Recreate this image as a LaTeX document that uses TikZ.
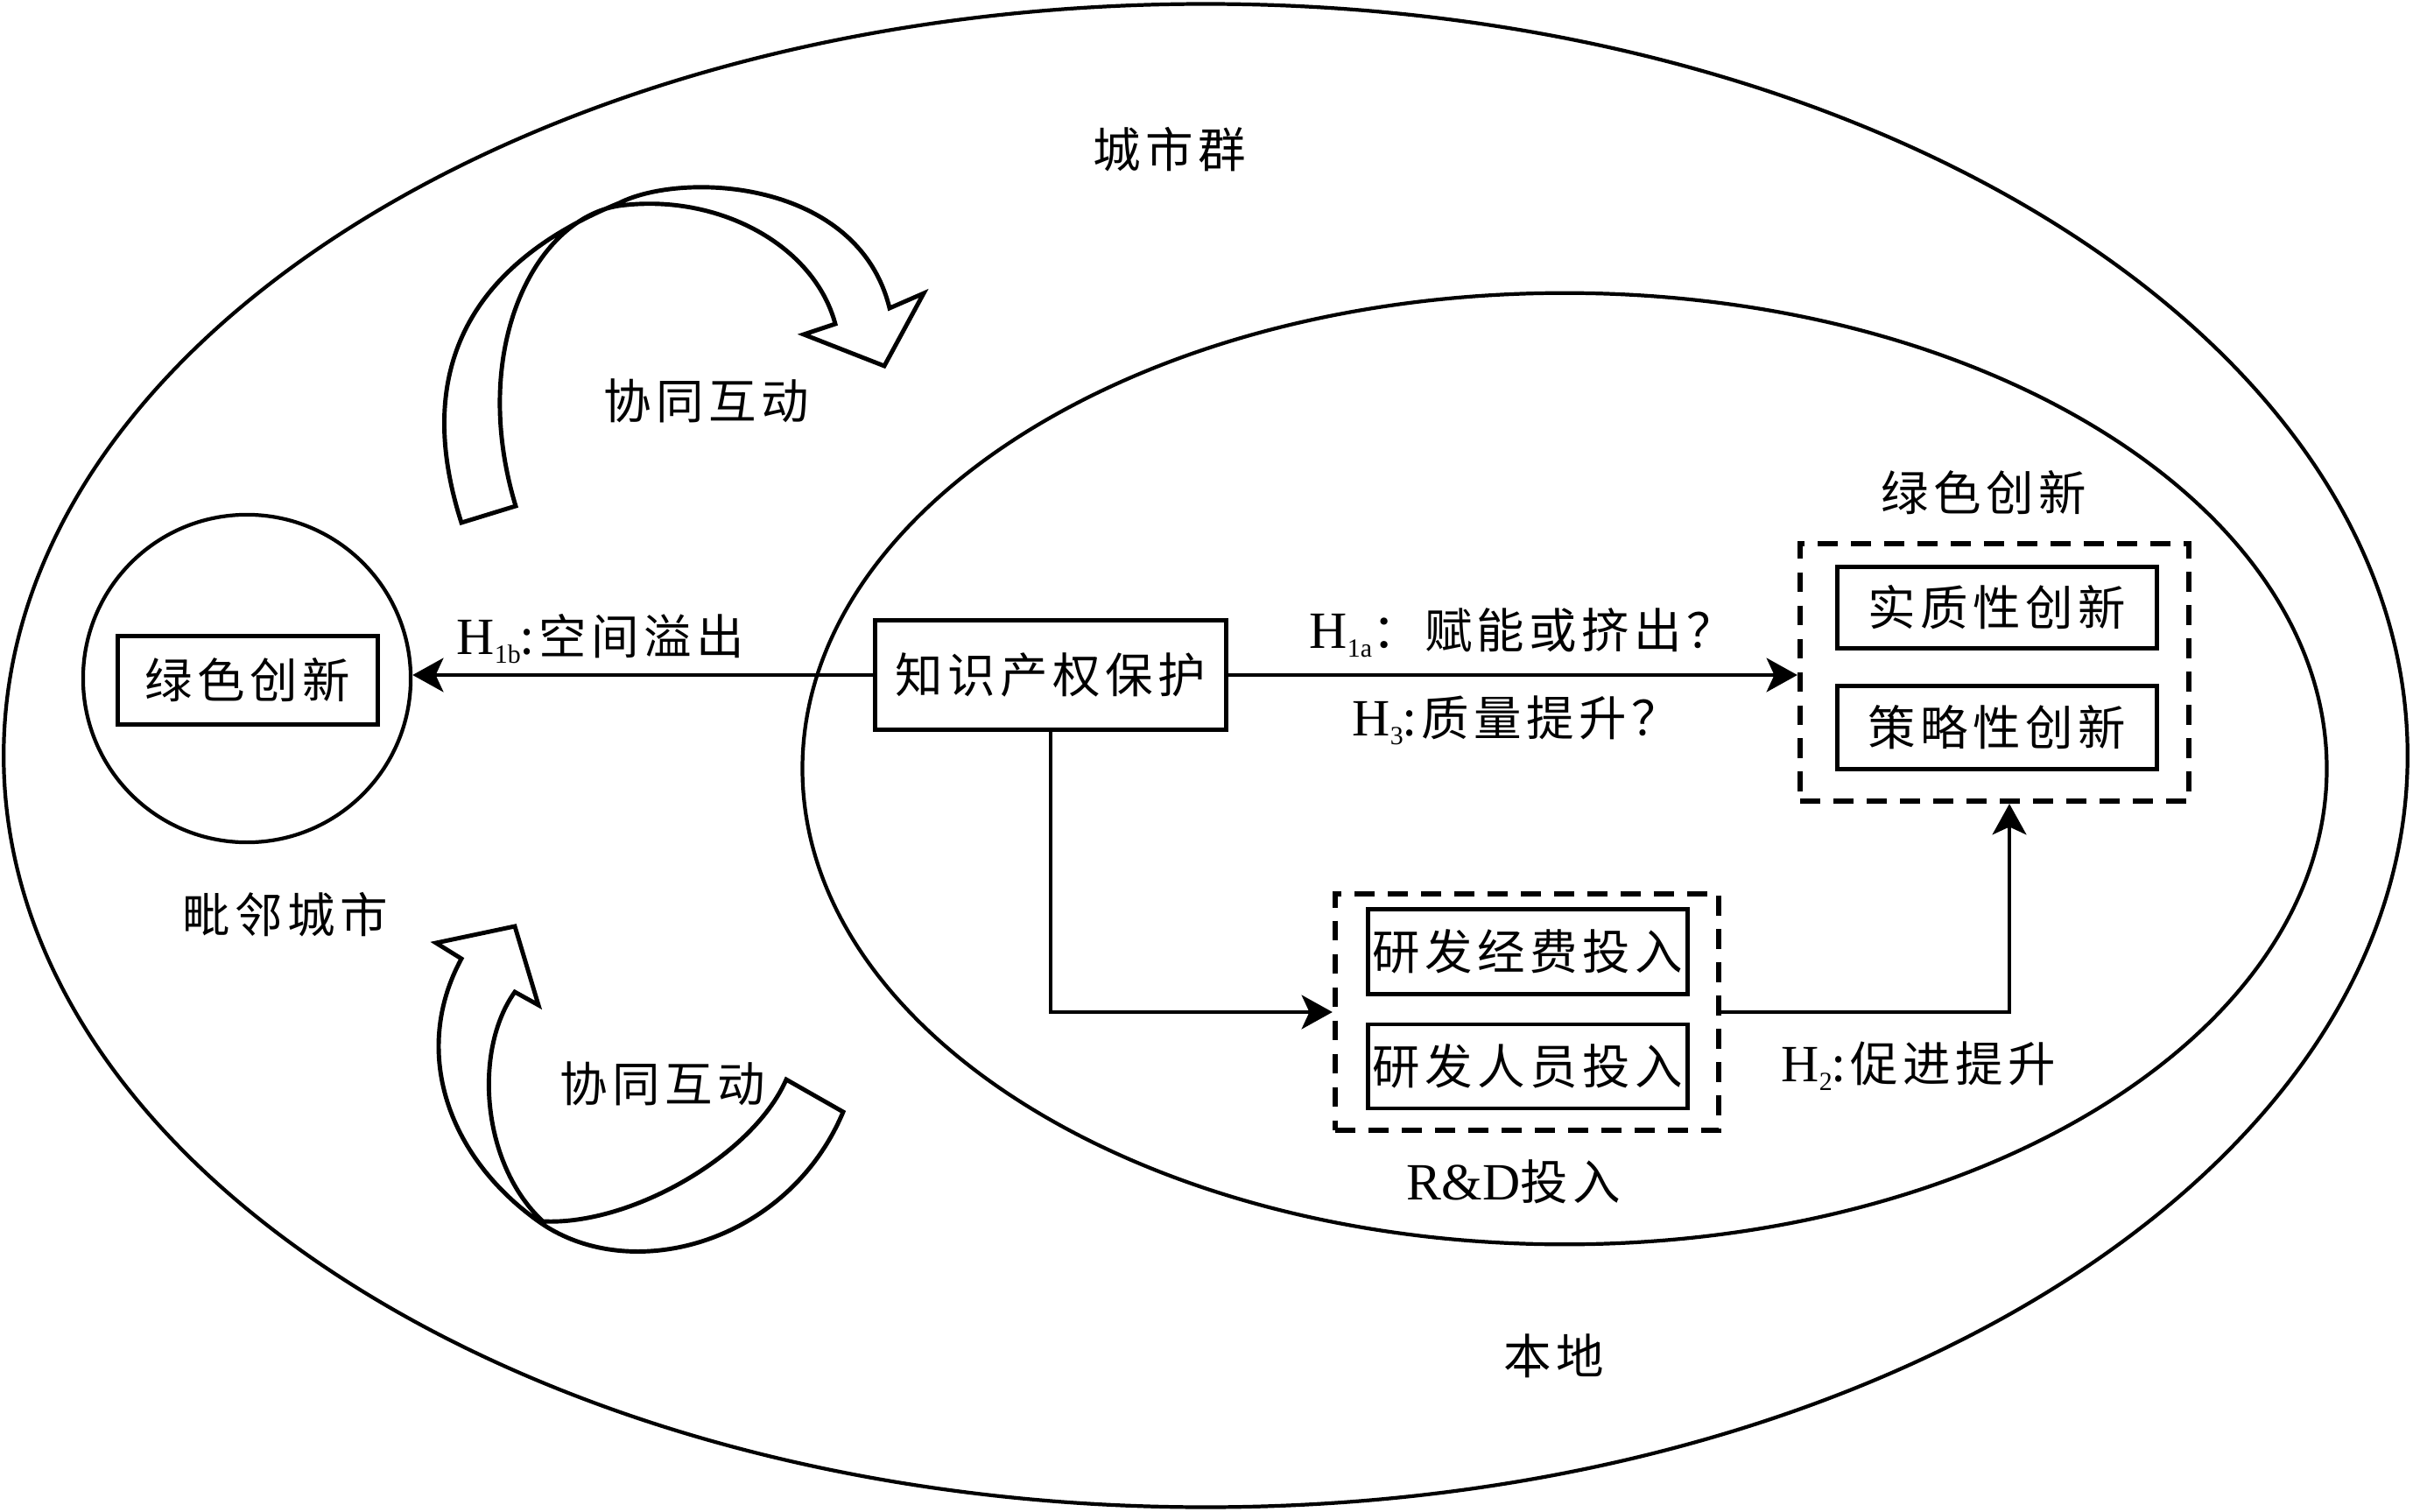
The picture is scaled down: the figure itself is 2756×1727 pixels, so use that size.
\documentclass[tikz,border=0pt]{standalone}
\usepackage{fontspec}
\setmainfont{Liberation Serif}
\newfontfamily\cjk[LetterSpace=10]{Noto Sans CJK SC}
\usetikzlibrary{arrows.meta}
\newcommand\myfs{\fontsize{15.5}{18}\selectfont}
\newcommand\latfs{\fontsize{17}{20}\selectfont}
\newcommand\mysub[1]{\raisebox{-3pt}{\fontsize{8.5}{9}\selectfont #1}}
\begin{document}
\begin{tikzpicture}[x=0.01cm,y=-0.01cm,
  lbl/.style={font=\myfs\cjk, inner sep=0},
  hl/.style={font=\latfs, inner sep=0},
  box/.style={draw, line width=1.4pt, inner sep=0, font=\myfs\cjk},
  dbox/.style={draw, line width=1.7pt, dash pattern=on 6.5pt off 4.3pt, inner sep=0},
  arr/.style={line width=1.3pt, -{Stealth[length=10pt,width=11pt,inset=2.5pt]}},
  ell/.style={line width=1.2pt},
  carrow/.style={line width=1.4pt, line join=miter}]
\useasboundingbox (0,0) rectangle (2756,1727);

% ellipses
\draw[ell] (1377,863) ellipse [x radius=13.72cm, y radius=8.58cm];
\draw[ell] (1787,878) ellipse [x radius=8.70cm, y radius=5.43cm];

% neighbouring city
\node[draw, circle, ell, minimum size=3.74cm, inner sep=0] (circ) at (282,775) {};
\node[box, minimum width=2.96cm, minimum height=1.01cm] (gl) at (283,777) {绿色创新};

% curved arrows
\draw[carrow] (527,597) .. controls (470,420) and (540,300) .. (707,232)
  .. controls (780,195) and (980,205) .. (1016,352)
  -- (1055,335) -- (1010,418) -- (918,382) -- (954,370)
  .. controls (930,280) and (820,220) .. (707,235)
  .. controls (610,250) and (535,400) .. (589,578) -- cycle;
\draw[carrow] (527,1095) -- (498,1077) -- (588,1058) -- (615,1148) -- (588,1133)
  .. controls (540,1200) and (550,1330) .. (620,1395)
  .. controls (720,1400) and (860,1320) .. (898,1233)
  -- (963,1270)
  .. controls (900,1420) and (720,1470) .. (615,1395)
  .. controls (510,1320) and (470,1200) .. (527,1095) -- cycle;

% main boxes
\node[box, minimum width=4.01cm, minimum height=1.25cm] (ipr) at (1200,771) {知识产权保护};
\node[dbox, minimum width=4.44cm, minimum height=2.94cm] (gbox) at (2278,768) {};
\node[box, minimum width=3.64cm, minimum height=0.93cm] (s1) at (2281,694) {实质性创新};
\node[box, minimum width=3.64cm, minimum height=0.95cm] (s2) at (2281,831) {策略性创新};
\node[dbox, minimum width=4.38cm, minimum height=2.70cm] (rdbox) at (1744,1156) {};
\node[box, minimum width=3.65cm, minimum height=0.97cm] (r1) at (1745,1087) {研发经费投入};
\node[box, minimum width=3.65cm, minimum height=0.96cm] (r2) at (1745,1218) {研发人员投入};

% connectors
\draw[arr] (ipr.west) -- (ipr.west -| circ.east);
\draw[arr] (ipr.east) -- (ipr.east -| gbox.west);
\draw[arr] (ipr.south) |- (rdbox.west);
\draw[arr] (rdbox.east) -| ([xshift=0.17cm]gbox.south);

% labels
\node[lbl] (t1) at (1336,171) {城市群};
\node[lbl] (t2) at (807,458) {协同互动};
\node[lbl] (t3) at (757,1238) {协同互动};
\node[lbl] (t4) at (326,1045) {毗邻城市};
\node[lbl] (t5) at (1775,1549) {本地};
\node[lbl] (t6) at (2266,563) {绿色创新};
\node[hl, anchor=base west] (h1b) at (521,747) {H\mysub{1b}{\myfs\cjk :空间溢出}};
\node[hl, anchor=base west] (h1a) at (1495,740) {H\mysub{1a}{\myfs\cjk ：赋能或挤出？}};
\node[hl, anchor=base west] (h3) at (1544,840) {H\mysub{3}{\myfs\cjk :质量提升？}};
\node[hl, anchor=base west] (h2) at (2034,1235) {H\mysub{2}{\myfs\cjk :促进提升}};
\node[hl, anchor=base west] (rd) at (1606,1370) {R\&D{\myfs\cjk 投入}};
\end{tikzpicture}
\end{document}
